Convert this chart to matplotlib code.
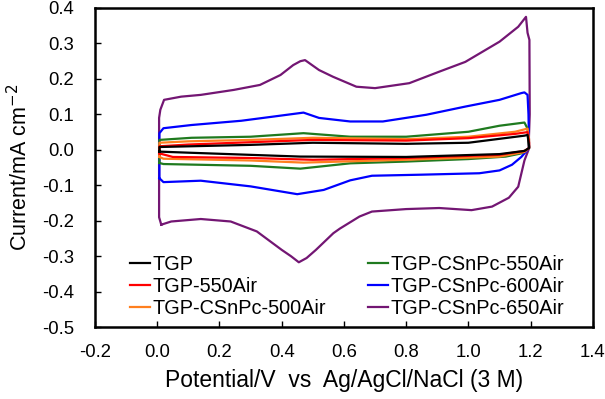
import numpy as np
import matplotlib
matplotlib.use("Agg")
import matplotlib.pyplot as plt

plt.rcParams['font.family'] = ['Liberation Sans', 'DejaVu Sans']

# each loop = anodic sweep (0 -> 1.2 V) then cathodic sweep back
labels = ["TGP", "TGP-550Air", "TGP-CSnPc-500Air",
          "TGP-CSnPc-550Air", "TGP-CSnPc-600Air", "TGP-CSnPc-650Air"]
colors = ["#000000", "#ff0000", "#ff7f1e", "#1f7a1f", "#0000ff", "#731673"]

tgp_V = [0.007, 0.007, 0.30, 0.50, 0.80, 1.00, 1.18, 1.19, 1.195,
         1.195, 1.18, 1.10, 0.80, 0.46, 0.10, 0.007]
tgp_I = [-0.005, 0.008, 0.014, 0.020, 0.017, 0.020, 0.040, 0.042, 0.010,
         0.005, -0.003, -0.012, -0.020, -0.019, -0.008, -0.005]

air550_V = [0.007, 0.007, 0.10, 0.50, 0.80, 1.00, 1.15, 1.19, 1.195,
            1.195, 1.18, 1.10, 0.80, 0.50, 0.30, 0.05, 0.007]
air550_I = [-0.010, 0.010, 0.015, 0.028, 0.026, 0.033, 0.045, 0.050, 0.020,
            0.005, -0.003, -0.014, -0.023, -0.028, -0.023, -0.020, -0.010]

c500_V = [0.007, 0.007, 0.10, 0.30, 0.50, 0.80, 1.00, 1.15, 1.19, 1.195,
          1.195, 1.18, 1.10, 0.80, 0.47, 0.30, 0.02, 0.007]
c500_I = [-0.020, 0.020, 0.024, 0.028, 0.034, 0.030, 0.037, 0.051, 0.060, 0.030,
          0.005, -0.006, -0.019, -0.028, -0.036, -0.030, -0.025, -0.020]

c550_V = [0.007, 0.007, 0.11, 0.30, 0.47, 0.62, 0.80, 1.00, 1.10, 1.18, 1.19,
          1.195, 1.17, 1.12, 1.00, 0.80, 0.62, 0.46, 0.30, 0.02, 0.007]
c550_I = [-0.037, 0.028, 0.034, 0.037, 0.047, 0.037, 0.037, 0.051, 0.068, 0.077, 0.060,
          0.005, -0.010, -0.019, -0.026, -0.033, -0.038, -0.053, -0.045, -0.040, -0.037]

c600_V = [0.007, 0.007, 0.02, 0.11, 0.27, 0.375, 0.47, 0.52, 0.62, 0.725, 0.865,
          0.99, 1.10, 1.17, 1.18, 1.19, 1.193,
          1.195, 1.17, 1.14, 1.10, 1.035, 0.85, 0.69, 0.62, 0.535, 0.45, 0.30,
          0.14, 0.02, 0.007]
c600_I = [-0.080, 0.047, 0.061, 0.070, 0.082, 0.094, 0.105, 0.090, 0.080, 0.080, 0.099,
          0.122, 0.141, 0.160, 0.162, 0.155, 0.100,
          0.005, -0.020, -0.042, -0.058, -0.066, -0.070, -0.073, -0.086, -0.113, -0.125, -0.103,
          -0.087, -0.091, -0.080]

c650_V = [0.013, 0.006, 0.006, 0.010, 0.022, 0.077, 0.14, 0.246, 0.33, 0.396, 0.437,
          0.46, 0.475, 0.52, 0.565, 0.64, 0.70, 0.81, 0.905, 0.99, 1.10, 1.16,
          1.185, 1.19, 1.196, 1.197,
          1.193, 1.18, 1.16, 1.13, 1.076, 1.01, 0.906, 0.80, 0.69, 0.65, 0.587,
          0.566, 0.51, 0.48, 0.455, 0.43, 0.40, 0.32, 0.236, 0.14, 0.045, 0.013]
c650_I = [-0.211, -0.190, 0.090, 0.113, 0.141, 0.150, 0.155, 0.169, 0.183, 0.211, 0.239,
          0.250, 0.253, 0.225, 0.206, 0.178, 0.174, 0.188, 0.220, 0.248, 0.305, 0.347,
          0.375, 0.330, 0.310, 0.100,
          0.000, -0.030, -0.104, -0.135, -0.160, -0.170, -0.164, -0.167, -0.174, -0.188, -0.222,
          -0.235, -0.282, -0.305, -0.317, -0.300, -0.282, -0.230, -0.202, -0.195, -0.202, -0.211]

series_V = [tgp_V, air550_V, c500_V, c550_V, c600_V, c650_V]
series_I = [tgp_I, air550_I, c500_I, c550_I, c600_I, c650_I]
zorders = [6, 5, 4, 3, 2, 1]

xt = np.round(np.arange(-0.2, 1.41, 0.2), 1) + 0.0
yt = np.round(np.arange(-0.5, 0.41, 0.1), 1) + 0.0

fig = plt.figure(figsize=(6.05, 3.99), dpi=100)
ax = fig.add_axes([0.157, 0.180, 0.823, 0.800])

for V, I, lab, col, z in zip(series_V, series_I, labels, colors, zorders):
    ax.plot(V, I, color=col, lw=1.6, label=lab, zorder=z)

ax.set_xlim(-0.2, 1.4)
ax.set_ylim(-0.5, 0.4)
ax.set_xticks(xt)
ax.set_yticks(yt)
ax.set_xticklabels(["%.1f" % t for t in xt])
ax.set_yticklabels(["%.1f" % t for t in yt])
ax.tick_params(direction='in', length=4, width=1, labelsize=13.3)
ax.tick_params(axis='x', pad=12)
ax.tick_params(axis='y', pad=15)
for s in ax.spines.values():
    s.set_linewidth(1.8)

ax.set_xlabel("Potential/V  vs  Ag/AgCl/NaCl (3 M)", fontsize=16.5, labelpad=6)
ax.set_ylabel("Current/mA cm$^{\u22122}$", fontsize=15.5, labelpad=7)

ax.legend(ncol=2, loc='lower left', bbox_to_anchor=(0.07, 0.03), frameon=False,
          fontsize=14.3, handlelength=1.0, handletextpad=0.15, columnspacing=2.1,
          labelspacing=0.15, borderaxespad=0, borderpad=0)

fig.savefig("out.png", dpi=100)
